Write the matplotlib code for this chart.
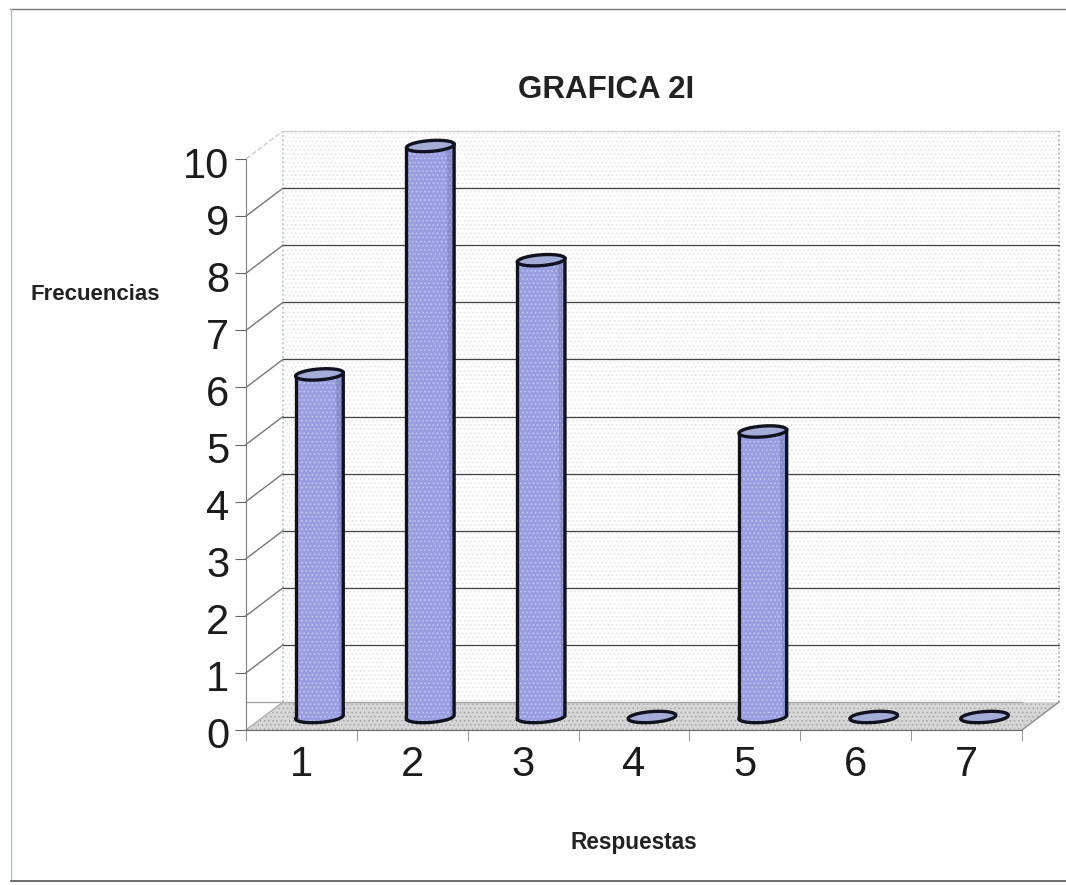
import numpy as np
import matplotlib
matplotlib.use('Agg')
import matplotlib.pyplot as plt
from matplotlib.lines import Line2D
from matplotlib.transforms import Affine2D

plt.rcParams['font.family'] = ['Liberation Sans', 'DejaVu Sans']
plt.rcParams['hatch.linewidth'] = 0.6

respuestas = [1, 2, 3, 4, 5, 6, 7]
frecuencias = [6, 10, 8, 0, 5, 0, 0]
y_ticks = [0, 1, 2, 3, 4, 5, 6, 7, 8, 9, 10]

W, H = 1066, 885
fig = plt.figure(figsize=(W / 100, H / 100), dpi=100, facecolor='white')
ax = fig.add_axes([246 / W, (H - 730) / H, 776 / W, 571 / H])
ax.set_xlim(0.5, 7.5)
ax.set_ylim(0, 10)
ax.patch.set_visible(False)

# depth of the fake 3d box, in pixels
back = ax.transData + Affine2D().translate(37, 28)
mid = ax.transData + Affine2D().translate(18, 13)

# back wall and floor
ax.fill([0.5, 7.5, 7.5, 0.5], [0, 0, 10, 10], transform=back, facecolor='#fefefe',
        edgecolor='#e2e4e8', hatch='....', lw=0, clip_on=False, zorder=0)
ax.plot([0.5, 7.5], [10, 10], transform=back, color='#d4d4d4', lw=1, clip_on=False, zorder=1)
ax.plot([0.5, 0.5], [0, 10], transform=back, color='#b4bcc6', lw=1.2, ls=':', clip_on=False, zorder=1)
ax.plot([7.5, 7.5], [0, 10], transform=back, color='#a8a8a8', lw=1.2, ls=':', clip_on=False, zorder=1)

dx_data = 37 / (776 / 7)
dy_data = 28 / 57.1
ax.fill([0.5, 7.5, 7.5 + dx_data, 0.5 + dx_data], [0, 0, dy_data, dy_data], facecolor='#d6d6d6',
        edgecolor='#a6a6a6', hatch='....', lw=0, clip_on=False, zorder=2)
ax.plot([7.5, 7.5 + dx_data], [0, dy_data], color='#8c8c8c', lw=1, clip_on=False, zorder=3)
ax.plot([0.5, 7.5], [dy_data, dy_data], color='#a8a8a8', lw=1, clip_on=False, zorder=3)

# gridlines, back wall plus the side wall going to the axis
for v in y_ticks[1:-1]:
    ax.plot([0.5, 7.5], [v, v], transform=back, color='#444444', lw=0.9, clip_on=False, zorder=1.5)
    ax.plot([0.5, 0.5 + dx_data], [v, v + dy_data], color='#777777', lw=1, clip_on=False, zorder=1.5)
ax.plot([0.5, 0.5 + dx_data], [10, 10 + dy_data], color='#cccccc', lw=1, ls='--', clip_on=False, zorder=1.5)
ax.plot([0.5, 0.5 + dx_data], [0, dy_data], color='#b0b0b0', lw=1, clip_on=False, zorder=3)

# cylinders
half_w = 0.215
half_h = 0.095
tilt = 0.03
t = np.linspace(0, 2 * np.pi, 80)
ex = half_w * np.cos(t)
ey = half_h * np.sin(t) + tilt * np.cos(t)
t_low = np.linspace(np.pi, 2 * np.pi, 40)
lx = half_w * np.cos(t_low)
ly = half_h * np.sin(t_low) + tilt * np.cos(t_low)

for r, f in zip(respuestas, frecuencias):
    if f > 0:
        xs = np.concatenate([r + lx, [r + half_w, r - half_w]])
        ys = np.concatenate([ly, [f + tilt, f - tilt]])
        ax.fill(xs, ys, transform=mid, facecolor='#9a9fe2', edgecolor='#c4c7f2', hatch='....',
                lw=0, clip_on=False, zorder=4)
        # darker side of the cylinder
        sx = np.concatenate([r + lx[32:], [r + half_w, r + half_w * 0.7]])
        sy = np.concatenate([ly[32:], [f + tilt, f + tilt]])
        ax.fill(sx, sy, transform=mid, facecolor='#5f6490', alpha=0.3, lw=0, clip_on=False, zorder=4.1)
        ax.plot(xs[:-1], ys[:-1], transform=mid, color='#10131f', lw=2.4, clip_on=False, zorder=5)
        ax.plot([r - half_w, r - half_w], [-tilt, f - tilt], transform=mid, color='#10131f', lw=2.4,
                clip_on=False, zorder=5)
    ax.fill(r + ex, f + ey, transform=mid, facecolor='#a6acd8', edgecolor='#10131f', lw=2.4,
            clip_on=False, zorder=6)

# axes
for s in ['top', 'right']:
    ax.spines[s].set_visible(False)
ax.spines['left'].set_color('#7d7d7d')
ax.spines['bottom'].set_color('#6a6a6a')
ax.spines['left'].set_zorder(3)
ax.spines['bottom'].set_zorder(3)
ax.set_yticks(y_ticks)
ax.set_xticks(respuestas)
ax.set_xticks(np.arange(0.5, 8, 1), minor=True)
ax.tick_params(axis='y', length=8, color='#666666', labelsize=30, pad=4, labelcolor='#1c1c1c')
ax.tick_params(axis='x', which='major', length=0, labelsize=30, pad=11, labelcolor='#1c1c1c')
ax.tick_params(axis='x', which='minor', length=8, color='#8a8a8a')
for lab in ax.get_yticklabels():
    lab.set_transform(lab.get_transform() + Affine2D().translate(0, -3))

# titles are placed in figure coords
fig.text(606 / W, 1 - 90 / H, 'GRAFICA 2I', ha='center', va='center', fontsize=22.5,
         fontweight='bold', color='#222222')
fig.text(95 / W, 1 - 294 / H, 'Frecuencias', ha='center', va='center', fontsize=16,
         fontweight='bold', color='#222222')
fig.text(634 / W, 1 - 842 / H, 'Respuestas', ha='center', va='center', fontsize=16.3,
         fontweight='bold', color='#222222')

# scanned page frame
fig.add_artist(Line2D([10 / W, 1], [1 - 9 / H, 1 - 9 / H], color='#777777', lw=1))
fig.add_artist(Line2D([11 / W, 11 / W], [1 - 9 / H, 1 - 880 / H], color='#b4bcc6', lw=1))
fig.add_artist(Line2D([11 / W, 1], [1 - 881 / H, 1 - 881 / H], color='#555555', lw=1.2))

fig.savefig('out.png', dpi=100)
plt.close(fig)
